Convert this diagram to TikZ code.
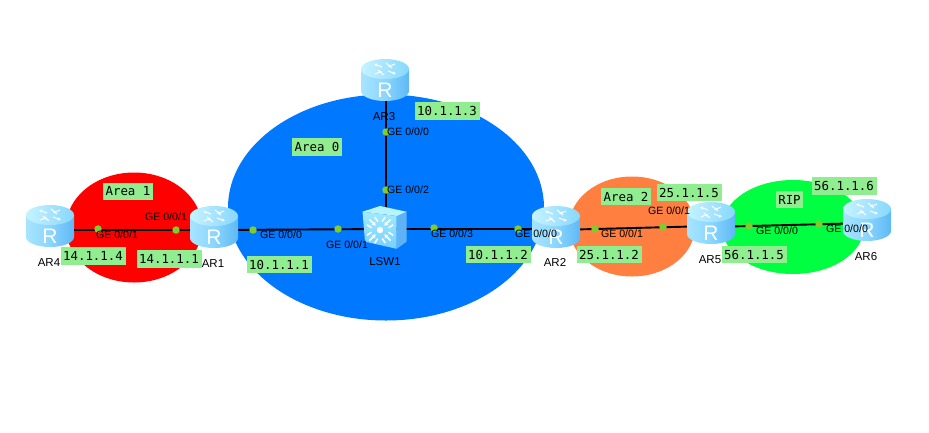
\documentclass[tikz,border=0pt]{standalone}
\usepackage{fontspec}
\setmainfont{Liberation Sans}
\newfontfamily\lblmono{DejaVu Sans Mono}
\usetikzlibrary{arrows.meta}
\definecolor{areablue}{HTML}{0078FF}
\definecolor{areared}{HTML}{FF0000}
\definecolor{areaorange}{HTML}{FF7F40}
\definecolor{areagreen}{HTML}{00FF40}
\definecolor{lblgreen}{HTML}{90EE90}
\definecolor{portdot}{HTML}{80CC30}
\definecolor{bodyL}{HTML}{A8E4FF}
\definecolor{bodyM}{HTML}{8AD6FF}
\definecolor{bodyR}{HTML}{5FB8F5}
\definecolor{topL}{HTML}{C4F4FF}
\definecolor{topR}{HTML}{86D8FC}
\definecolor{frontT}{HTML}{A0EAFF}
\definecolor{frontB}{HTML}{78D0FF}
\definecolor{sideC}{HTML}{5FB2F5}
\definecolor{topC}{HTML}{B8F4FF}
\tikzset{
  x=1pt,y=-1pt,
  routerbox/.style={minimum width=48pt,minimum height=43pt,inner sep=0pt,outer sep=0pt},
  switchbox/.style={minimum width=44pt,minimum height=43pt,inner sep=0pt,outer sep=0pt},
  lnk/.style={line width=1.9pt,black},
  dotport/.style={circle,fill=portdot,minimum size=7.5pt,inner sep=0pt},
  addr/.style={fill=lblgreen,minimum width=65pt,minimum height=17.5pt,inner sep=0pt,font=\lblmono\fontsize{12.4}{14}\selectfont},
  arealbl/.style={fill=lblgreen,minimum height=17.5pt,inner sep=0pt,font=\lblmono\fontsize{12.4}{14}\selectfont},
  port/.style={inner sep=0pt,font=\fontsize{10.6}{12}\selectfont},
  devname/.style={inner sep=0pt,font=\fontsize{11.5}{13}\selectfont},
}
\newcommand{\routericon}[1]{%
  \begin{scope}[shift={(#1.center)},x=1pt,y=1pt]
    \shade[left color=bodyL,right color=bodyR,middle color=bodyM]
      (-24,11) -- (-24,-11) arc[start angle=180,end angle=360,x radius=24,y radius=10] -- (24,11) -- cycle;
    \shade[left color=topL,right color=topR,middle color=bodyL]
      (0,11) ellipse[x radius=24,y radius=10];
    \begin{scope}[shift={(0,11)},white,line width=1.1pt,opacity=.9]
      \draw[-{Latex[length=3pt,width=3.5pt]}] (-3,2) -- (-11,5);
      \draw[-{Latex[length=3pt,width=3.5pt]}] (3,-2) -- (11,-5);
      \draw[-{Latex[length=3pt,width=3.5pt]}] (-10,-5) -- (-3,-2);
      \draw[-{Latex[length=3pt,width=3.5pt]}] (10,5) -- (3,2);
      \draw (-7,-1) -- (-1,-6) (7,1) -- (1,6);
    \end{scope}
    \node[white,inner sep=0pt,font=\fontsize{21}{21}\selectfont] at (0,-10.5) {R};
  \end{scope}}
\newcommand{\switchicon}[1]{%
  \begin{scope}[shift={(#1.center)},x=1pt,y=1pt]
    \fill[sideC] (11.7,12) -- (21.5,16.3) -- (21.5,-13.7) -- (11.7,-20.8) -- cycle;
    \fill[topC] (-22.5,16.3) -- (-5,22) -- (21.5,16.3) -- (11.7,12) -- cycle;
    \shade[top color=frontT,bottom color=frontB] (-22.5,16.3) -- (11.7,12) -- (11.7,-20.8) -- (-20,-13.7) -- cycle;
    \fill[white] (-5,-2) circle[radius=3.2pt];
    \begin{scope}[shift={(-5,-2)}]
    \foreach \a in {45,135,225,315}{
      \draw[white,line width=1.7pt,{Latex[length=3.5pt,width=5.5pt]}-,rotate=\a] (6,0) -- (15,0);
      \draw[white,line width=1.5pt,rotate=\a] (13,-5.5) -- (7.5,-4.5) (13,5.5) -- (7.5,4.5);
    }
    \end{scope}
  \end{scope}}
\begin{document}
\begin{tikzpicture}
\useasboundingbox (0,0) rectangle (929,432);
% areas
\fill[areablue] (386,207.5) ellipse[x radius=158,y radius=113];
\fill[areared] (134,227.5) ellipse[x radius=68,y radius=55];
\fill[areaorange] (632,226.5) ellipse[x radius=63,y radius=50];
\fill[areagreen] (793,227) ellipse[x radius=71,y radius=47];
% device anchors
\node[routerbox] (ar4) at (50,226) {};
\node[routerbox] (ar1) at (214,227) {};
\node[routerbox] (ar3) at (385,80) {};
\node[routerbox] (ar2) at (556,227) {};
\node[routerbox] (ar5) at (711,223) {};
\node[routerbox] (ar6) at (867,220) {};
\node[switchbox] (lsw) at (385,228) {};
% links
\draw[lnk] ([yshift=-4pt]ar4.center) -- ([yshift=-3pt]ar1.center);
\draw[lnk] ([yshift=-3pt]ar1.center) -- ([yshift=-1pt]lsw.center);
\draw[lnk] ([xshift=1pt]ar3.center) -- ([xshift=1pt]lsw.center);
\draw[lnk] ([yshift=-1pt]lsw.center) -- ([yshift=-2pt]ar2.center);
\draw[lnk] ([yshift=-3pt]ar2.center) -- ([yshift=-3pt]ar5.center);
\draw[lnk] ([yshift=-4pt]ar5.center) -- ([yshift=-3pt]ar6.center);
% icons
\routericon{ar4}\routericon{ar1}\routericon{ar3}\routericon{ar2}\routericon{ar5}\routericon{ar6}
\switchicon{lsw}
% port dots
\foreach \n/\p in {d1/{98,229},d2/{176,230},d3/{253,230},d4/{338,229},d5/{386,132},d6/{386,190},d7/{434,228},d8/{518,229},d9/{595,229},d10/{663,227},d11/{749,226},d12/{819,224}}
  \node[dotport] (\n) at (\p) {};
% device names
\node[devname] (n4) at (49,263) {AR4};
\node[devname] (n1) at (213,264) {AR1};
\node[devname] (n3) at (384,117) {AR3};
\node[devname] (ns) at (385,262) {LSW1};
\node[devname] (n2) at (555,262) {AR2};
\node[devname] (n5) at (710,260) {AR5};
\node[devname] (n6) at (866,257) {AR6};
% port labels
\node[port] (p1) at (117,235) {GE 0/0/1};
\node[port] (p2) at (166,217) {GE 0/0/1};
\node[port] (p3) at (281,235) {GE 0/0/0};
\node[port] (p4) at (347,245) {GE 0/0/1};
\node[port] (p5) at (408,132) {GE 0/0/0};
\node[port] (p6) at (408,190) {GE 0/0/2};
\node[port] (p7) at (452,234) {GE 0/0/3};
\node[port] (p8) at (536,234) {GE 0/0/0};
\node[port] (p9) at (622,234) {GE 0/0/1};
\node[port] (p10) at (669,211) {GE 0/0/1};
\node[port] (p11) at (777,231) {GE 0/0/0};
\node[port] (p12) at (847,229) {GE 0/0/0};
% address labels
\node[addr] (a1) at (93,256) {14.1.1.4};
\node[addr] (a2) at (169,259) {14.1.1.1};
\node[addr] (a3) at (279,264.5) {10.1.1.1};
\node[addr] (a4) at (447,111) {10.1.1.3};
\node[addr] (a5) at (498,254.5) {10.1.1.2};
\node[addr] (a6) at (609,254.5) {25.1.1.2};
\node[addr] (a7) at (689,192.5) {25.1.1.5};
\node[addr] (a8) at (754,254.5) {56.1.1.5};
\node[addr] (a9) at (844,186) {56.1.1.6};
\node[arealbl,minimum width=50pt] (t1) at (128,191.5) {Area 1};
\node[arealbl,minimum width=50pt] (t0) at (317,147) {Area 0};
\node[arealbl,minimum width=50pt] (t2) at (626,196.5) {Area 2};
\node[arealbl,minimum width=27pt] (t3) at (789.5,199.5) {RIP};
\end{tikzpicture}
\end{document}
